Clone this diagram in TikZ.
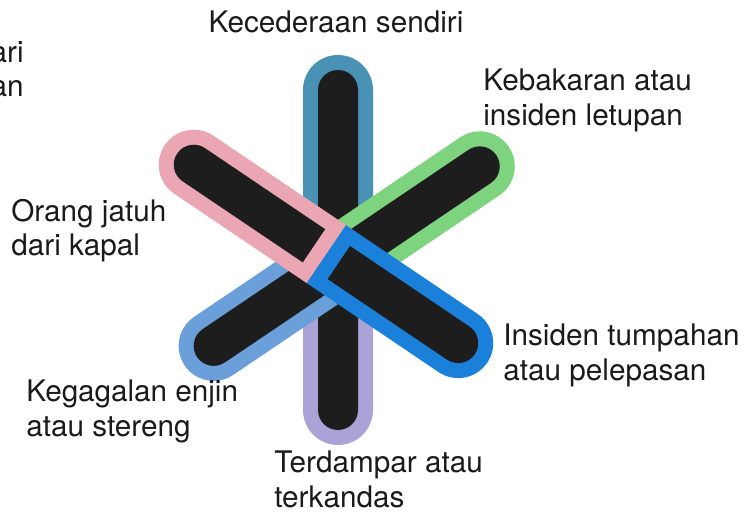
\documentclass[tikz,border=0pt]{standalone}
\usepackage{fontspec}
\setmainfont{TeX Gyre Heros}
\usepackage{tikz}

\definecolor{tealarm}{HTML}{4A91B6}
\definecolor{lavarm}{HTML}{A9A3D8}
\definecolor{greenarm}{HTML}{7ED37E}
\definecolor{cornarm}{HTML}{6A9FDA}
\definecolor{pinkarm}{HTML}{EBA6B4}
\definecolor{bluearm}{HTML}{1B80D9}
\definecolor{armcore}{HTML}{1D1D1D}
\definecolor{inktext}{HTML}{1A1A1A}

% one arm: colour, angle, inner end, outer end (from the hub)
\newcommand{\drawarm}[4]{%
  \begin{scope}[shift={(hub)},rotate=#2]
    \fill[#1] (#3,-35) -- (#4,-35) arc[start angle=-90,end angle=90,radius=35] -- (#3,35) -- cycle;
    \fill[armcore] (#3+15,-20) -- (#4,-20) arc[start angle=-90,end angle=90,radius=20] -- (#3+15,20) -- cycle;
  \end{scope}}

\begin{document}
\begin{tikzpicture}[
  x=0.02cm,y=0.02cm,
  lbl/.style={font=\fontsize{16.9}{19.4}\selectfont,text=inktext,inner sep=0pt,align=left}
]
\useasboundingbox (0,0) rectangle (751,513);
\coordinate (hub) at (338,251);

\drawarm{tealarm}{90}{0}{172}
\drawarm{lavarm}{-90}{0}{148}
\drawarm{greenarm}{34}{0}{171}
\drawarm{cornarm}{214}{0}{150}
\drawarm{pinkarm}{146}{14}{174}
\drawarm{bluearm}{-34}{-14}{145}

\node[lbl,anchor=base] (self) at (336,480) {Kecederaan sendiri};
\node[lbl,anchor=north west] (fire) at (483,444) {Kebakaran atau\\insiden letupan};
\node[lbl,anchor=north west] (overboard) at (11,314) {Orang jatuh\\dari kapal};
\node[lbl,anchor=north west] (spill) at (503,189) {Insiden tumpahan\\atau pelepasan};
\node[lbl,anchor=north west] (engine) at (26,133) {Kegagalan enjin\\atau stereng};
\node[lbl,anchor=north west] (ground) at (274,62) {Terdampar atau\\terkandas};
\node[lbl,anchor=north east,align=right] (cut) at (24,472) {ari\\an};
\end{tikzpicture}
\end{document}
